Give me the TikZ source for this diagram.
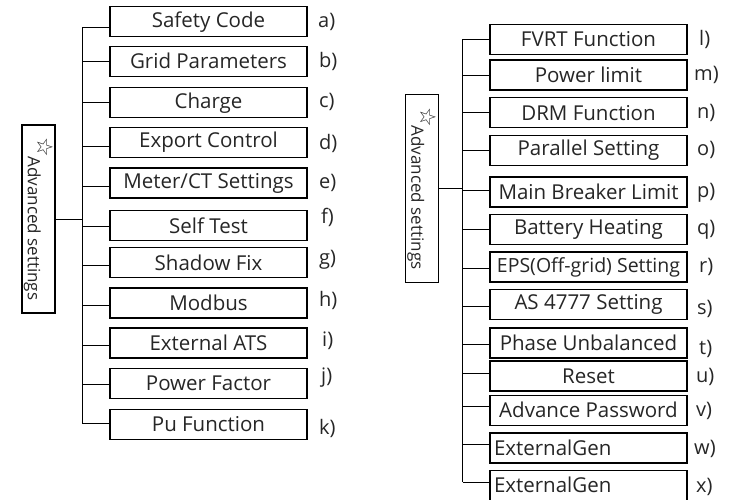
\documentclass[tikz,border=0pt]{standalone}
\usepackage{fontspec}
\setmainfont{Open Sans}
\newfontfamily\symfont{DejaVu Sans}
\begin{document}
\begin{tikzpicture}[x=1pt,y=-1pt,
  item/.style={draw,line width=1.2pt,minimum width=197pt,minimum height=30pt,inner sep=0pt,fill=white,text=black!85,font=\fontsize{20.5}{20.5}\selectfont},
  itemL/.style={item,text width=189pt,inner xsep=4pt,align=left},
  lbl/.style={anchor=west,inner sep=0pt,text=black!85,font=\fontsize{20}{20}\selectfont},
  wire/.style={line width=0.9pt},
  adv/.style={draw,line width=1.2pt,rotate=-90,minimum width=188pt,minimum height=33pt,inner sep=0pt,text=black!85,font=\fontsize{17}{17}\selectfont}]
\useasboundingbox (0,0) rectangle (732,500);
\clip (0,0) rectangle (732,500);
\newcommand{\advtext}{\raisebox{0.55em}{\symfont\fontsize{22}{22}\selectfont ☆}\kern-1pt Advanced settings}
% ---------- left panel ----------
\node[adv] (A1) at (38.5,219) {\advtext};
\coordinate (T1top) at (82,27.7);
\coordinate (T1bot) at (82,423.3);
\draw[wire] (T1top) -- (T1bot);
\draw[wire] (A1.north) -- (A1.north -| T1top);
\node[item] (a) at (208.5,21.7) {Safety Code};
\node[item] (b) at (208.5,61.3) {Grid Parameters};
\node[item] (c) at (208.5,102.7) {Charge};
\node[item] (d) at (208.5,142.5) {Export Control};
\node[item] (e) at (208.5,183) {Meter/CT Settings};
\node[item] (f) at (208.5,225.7) {Self Test};
\node[item] (g) at (208.5,262.7) {Shadow Fix};
\node[item] (h) at (208.5,303) {Modbus};
\node[item] (i) at (208.5,343) {External ATS};
\node[item] (j) at (208.5,383.7) {Power Factor};
\node[item] (k) at (208.5,424.5) {Pu Function};
\foreach \n/\y in {a/27.7,b/61,c/102.7,d/146.7,e/186.7,f/226.7,g/265.7,h/305,i/345,j/384,k/423.3}
  \draw[wire] (82,\y) -- (\n.west |- 0,\y);
\node[lbl] (la) at (318,22) {a)};
\node[lbl] (lb) at (319,61) {b)};
\node[lbl] (lc) at (319,102) {c)};
\node[lbl] (ld) at (319,143) {d)};
\node[lbl] (le) at (319,183) {e)};
\node[lbl] (lf) at (321,217) {f)};
\node[lbl] (lg) at (319,260) {g)};
\node[lbl] (lh) at (319,300) {h)};
\node[lbl] (li) at (322,341) {i)};
\node[lbl] (lj) at (321,378) {j)};
\node[lbl] (lk) at (319,428) {k)};
% ---------- right panel ----------
\node[adv] (A2) at (422,188.3) {\advtext};
\coordinate (T2top) at (462.7,39.3);
\coordinate (T2bot) at (462.7,482.3);
\draw[wire] (T2top) -- (T2bot);
\draw[wire] (A2.north) -- (A2.north -| T2top);
\node[item] (l) at (588.5,39.3) {FVRT Function};
\node[item] (m) at (588.5,75) {Power limit};
\node[item] (n) at (588.5,112.7) {DRM Function};
\node[item] (o) at (588.5,150.3) {Parallel Setting};
\node[item] (p) at (588.5,192) {Main Breaker Limit};
\node[item] (q) at (588.5,229.7) {Battery Heating};
\node[item,font=\fontsize{19.5}{19.5}\selectfont] (r) at (588.5,267) {EPS(Off-grid) Setting};
\node[item] (s) at (588.5,304.7) {AS 4777 Setting};
\node[item] (t) at (588.5,343) {Phase Unbalanced};
\node[item] (u) at (588.5,376) {Reset};
\node[item] (v) at (588.5,410.3) {Advance Password};
\node[itemL] (w) at (588.5,448) {ExternalGen};
\node[itemL] (x) at (588.5,485.3) {ExternalGen};
\foreach \n/\y in {l/39.3,m/75,n/112.7,o/150,p/190,q/229.3,r/268.3,s/306,t/344.3,u/373.3,v/406.7,w/444.3,x/482.3}
  \draw[wire] (462.7,\y) -- (\n.west |- 0,\y);
\node[lbl] (ll) at (699,39) {l)};
\node[lbl] (lm) at (694,75) {m)};
\node[lbl] (ln) at (697,113) {n)};
\node[lbl] (lo) at (697,150) {o)};
\node[lbl] (lp) at (697,193) {p)};
\node[lbl] (lq) at (697,230) {q)};
\node[lbl] (lr) at (699,267) {r)};
\node[lbl] (ls) at (697,309) {s)};
\node[lbl] (lt) at (699,349) {t)};
\node[lbl] (lu) at (696,377) {u)};
\node[lbl] (lv) at (696,411) {v)};
\node[lbl] (lw) at (694,449) {w)};
\node[lbl] (lx) at (696,487) {x)};
\end{tikzpicture}
\end{document}
